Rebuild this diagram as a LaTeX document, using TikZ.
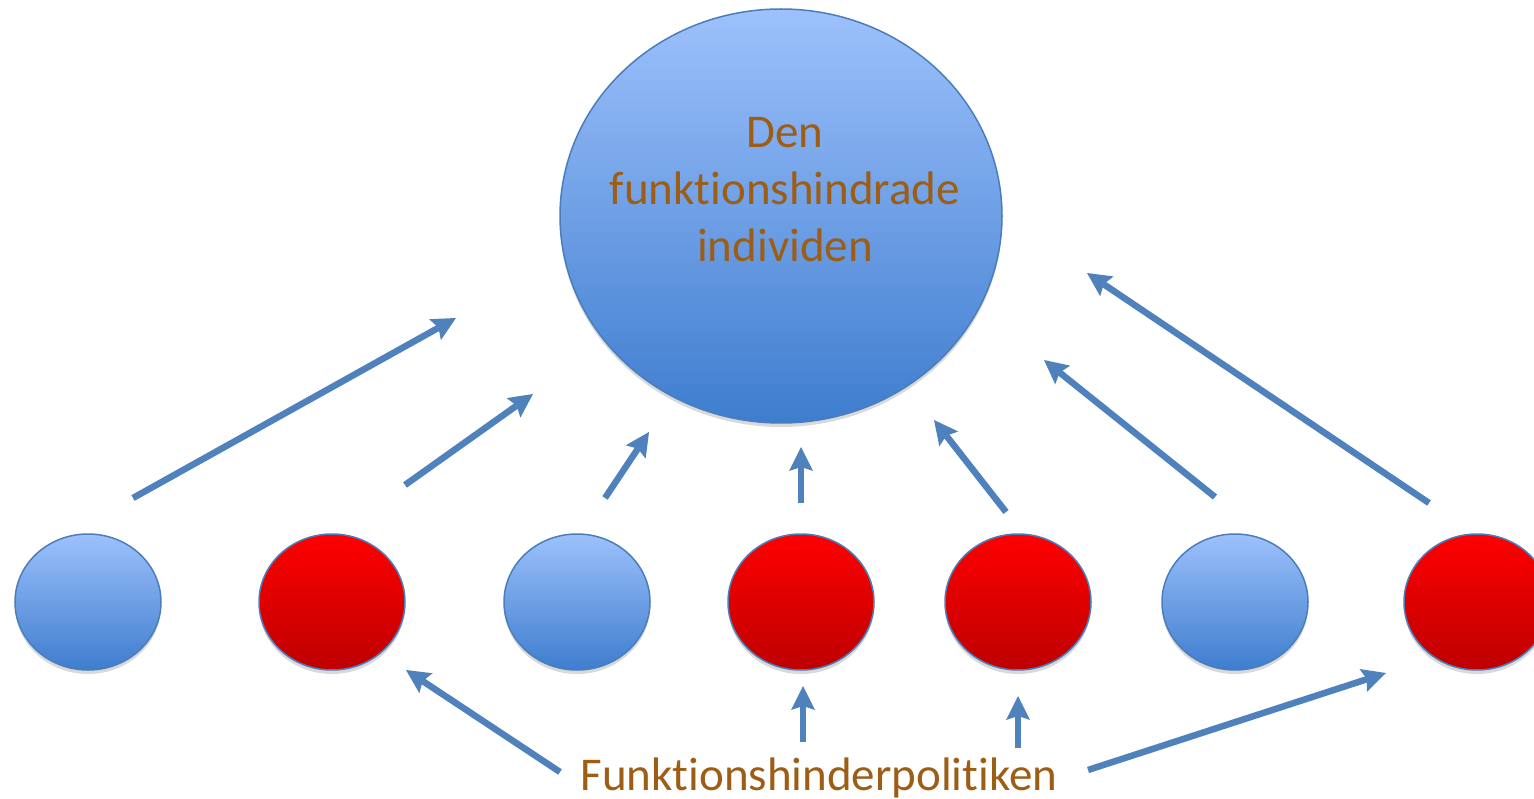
\documentclass[tikz,border=0pt]{standalone}
\usepackage{fontspec}
\setmainfont{Carlito}[Ligatures={NoCommon,NoRare,NoContextual},RawFeature={-liga;-clig;-calt;-dlig}]
\usetikzlibrary{shapes.geometric,shadows,arrows.meta}
\definecolor{edgeblue}{RGB}{74,126,187}
\definecolor{arrowblue}{RGB}{79,129,189}
\definecolor{lblue}{RGB}{157,193,252}
\definecolor{dblue}{RGB}{62,125,206}
\definecolor{lred}{RGB}{255,0,0}
\definecolor{dred}{RGB}{190,0,0}
\definecolor{txtbrown}{RGB}{158,93,20}
\newcommand{\tii}{t\kern0pt i}
\tikzset{
  bluecirc/.style={ellipse, draw=edgeblue, line width=1.5pt, inner sep=0pt,
     top color=lblue, bottom color=dblue,
     drop shadow={opacity=0.3, shadow xshift=0pt, shadow yshift=-4pt}},
  redcirc/.style={ellipse, draw=edgeblue, line width=1.5pt, inner sep=0pt,
     top color=lred, bottom color=dred,
     drop shadow={opacity=0.3, shadow xshift=0pt, shadow yshift=-4pt}},
  small/.style={minimum width=146pt, minimum height=136pt},
  arr/.style={color=arrowblue, line width=6.5pt,
     -{Stealth[length=24pt, width=24pt, inset=4pt, fill=arrowblue, line width=0pt]}},
  lbl/.style={text=txtbrown, font=\fontsize{47}{57}\selectfont, align=center, inner sep=0pt}
}
\begin{document}
\begin{tikzpicture}[x=1pt,y=-1pt]
\useasboundingbox (0,0) rectangle (1534,799);
\node[bluecirc, minimum width=442pt, minimum height=414pt] (big) at (781,216) {};
\node[lbl] (bigtxt) at (785,190) {Den\\funk\tii onshindrade\\individen};
\node[bluecirc, small] (c1) at (88,602) {};
\node[redcirc, small] (c2) at (332,602) {};
\node[bluecirc, small] (c3) at (577,602) {};
\node[redcirc, small] (c4) at (801,602) {};
\node[redcirc, small] (c5) at (1018,602) {};
\node[bluecirc, small] (c6) at (1235,602) {};
\node[redcirc, small] (c7) at (1477,602) {};
\node[lbl, anchor=base] (pol) at (819,790) {Funk\tii onshinderpoli\tii ken};
\coordinate (a1s) at (133,498); \coordinate (a1e) at (456,318);
\coordinate (a2s) at (405,485); \coordinate (a2e) at (533,394);
\coordinate (a3s) at (605,498); \coordinate (a3e) at (649,432);
\coordinate (a4s) at (801,503); \coordinate (a4e) at (801,447);
\coordinate (a5s) at (1006,512); \coordinate (a5e) at (934,420);
\coordinate (a6s) at (1215,497); \coordinate (a6e) at (1044,360);
\coordinate (a7s) at (1429,503); \coordinate (a7e) at (1087,273);
\coordinate (b1s) at (560,772); \coordinate (b1e) at (406,670);
\coordinate (b2s) at (803,742); \coordinate (b2e) at (803,686);
\coordinate (b3s) at (1018,748); \coordinate (b3e) at (1018,696);
\coordinate (b4s) at (1088,770); \coordinate (b4e) at (1386,673);
\foreach \n in {a1,a2,a3,a4,a5,a6,a7,b1,b2,b3,b4}
  \draw[arr] (\n s) -- (\n e);
\end{tikzpicture}
\end{document}
